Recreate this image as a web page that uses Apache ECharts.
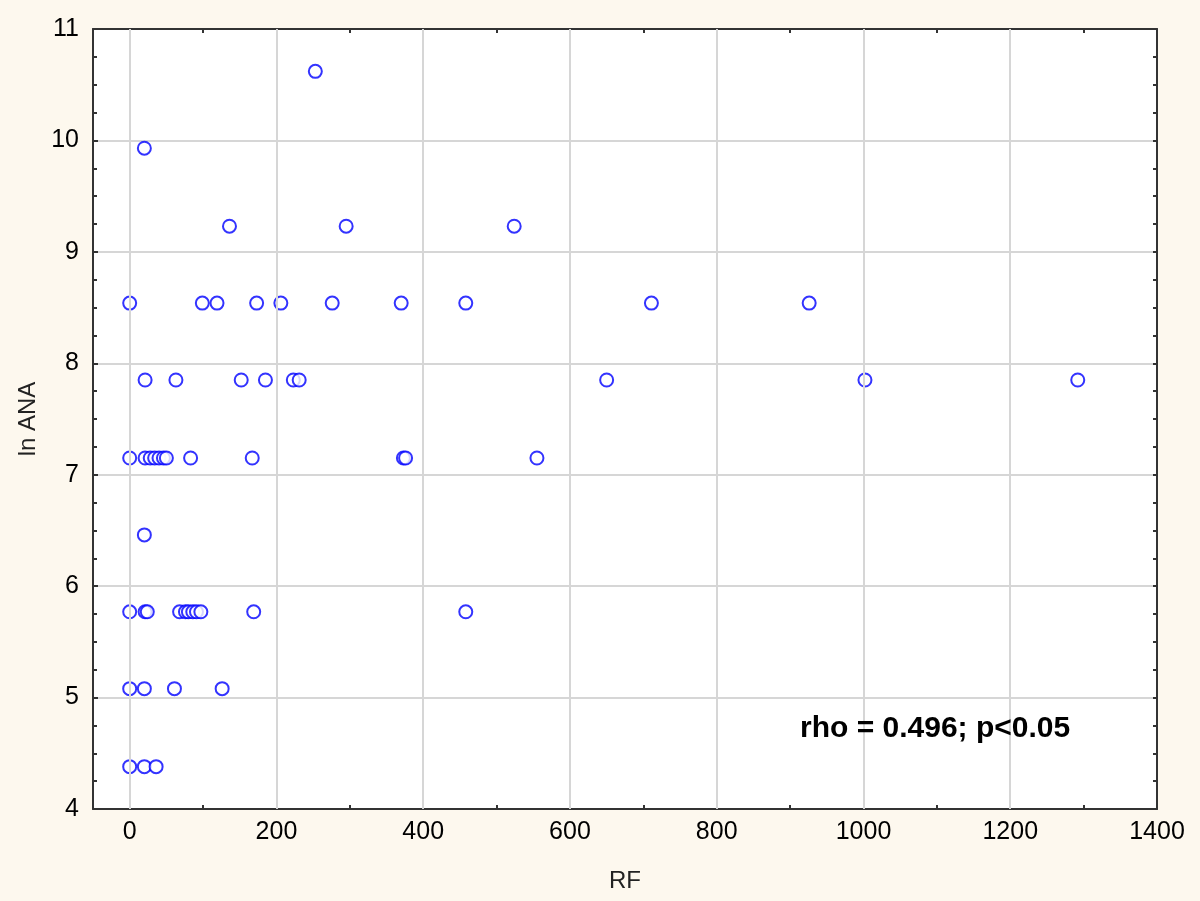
<!DOCTYPE html>
<html>
<head>
<meta charset="utf-8">
<script src="https://cdn.jsdelivr.net/npm/echarts@6/dist/echarts.min.js"></script>
<style>
html,body{margin:0;padding:0;background:#fdf8ee;}
#c{width:1200px;height:901px;}
</style>
</head>
<body>
<div id="c"></div>
<script>
// ---- data ----
const rf = [
  253,
  20,
  136, 295, 524,
  0, 99, 119, 173, 206, 276, 370, 458, 711, 926,
  21, 63, 152, 185, 223, 231, 650, 1002, 1292,
  0, 21, 28, 34, 40, 46, 50, 83, 167, 373, 376, 555,
  20,
  0, 21, 24, 68, 76, 80, 86, 91, 97, 169, 458,
  0, 20, 61, 126,
  0, 20, 36
];
const lnANA = [
  10.62,
  9.93,
  9.23, 9.23, 9.23,
  8.54, 8.54, 8.54, 8.54, 8.54, 8.54, 8.54, 8.54, 8.54, 8.54,
  7.85, 7.85, 7.85, 7.85, 7.85, 7.85, 7.85, 7.85, 7.85,
  7.15, 7.15, 7.15, 7.15, 7.15, 7.15, 7.15, 7.15, 7.15, 7.15, 7.15, 7.15,
  6.46,
  5.77, 5.77, 5.77, 5.77, 5.77, 5.77, 5.77, 5.77, 5.77, 5.77, 5.77,
  5.08, 5.08, 5.08, 5.08,
  4.38, 4.38, 4.38
];
const xLabelTicks = [0, 200, 400, 600, 800, 1000, 1200, 1400];
const xAllTicks = [0, 100, 200, 300, 400, 500, 600, 700, 800, 900, 1000, 1100, 1200, 1300, 1400];
const xGridVals = [0, 200, 400, 600, 800, 1000, 1200];
const xTitle = 'RF';
const yTitle = 'ln ANA';
const note = 'rho = 0.496; p<0.05';

const FONT = '"Liberation Sans", Arial, sans-serif';
const frame = {show: true, onZero: false, lineStyle: {color: '#333', width: 2}};
const plain = v => String(v);

const chart = echarts.init(document.getElementById('c'), null, {renderer: 'canvas'});
chart.setOption({
  backgroundColor: '#fdf8ee',
  animation: false,
  grid: {left: 93, right: 43, top: 29, bottom: 92, show: true, backgroundColor: '#ffffff', borderWidth: 0},
  xAxis: [{
    type: 'value', position: 'bottom', min: -50, max: 1400,
    axisLine: frame,
    axisTick: {show: true, inside: true, length: 4, customValues: xAllTicks, lineStyle: {color: '#333', width: 2}},
    axisLabel: {customValues: xLabelTicks, formatter: plain, color: '#000', fontFamily: FONT, fontSize: 25, margin: 11},
    splitLine: {show: false},
    name: xTitle, nameLocation: 'middle', nameGap: 60,
    nameTextStyle: {color: '#222', fontFamily: FONT, fontSize: 24}
  }, {
    type: 'value', position: 'top', min: -50, max: 1400,
    axisLine: frame,
    axisTick: {show: true, inside: true, length: 4, customValues: xAllTicks, lineStyle: {color: '#333', width: 2}},
    axisLabel: {show: false},
    splitLine: {show: false}
  }],
  yAxis: [{
    type: 'value', position: 'left', min: 4, max: 11, interval: 1,
    axisLine: frame,
    axisTick: {show: true, inside: true, length: 5, lineStyle: {color: '#333', width: 2}},
    minorTick: {show: true, splitNumber: 4, length: 4, lineStyle: {color: '#333', width: 2}},
    axisLabel: {formatter: plain, color: '#000', fontFamily: FONT, fontSize: 25, margin: 14},
    splitLine: {show: true, lineStyle: {color: '#d6d6d6', width: 2}},
    name: yTitle, nameLocation: 'middle', nameGap: 53, nameRotate: 90,
    nameTextStyle: {color: '#222', fontFamily: FONT, fontSize: 24}
  }, {
    type: 'value', position: 'right', min: 4, max: 11, interval: 1,
    axisLine: frame,
    axisTick: {show: true, inside: true, length: 4, lineStyle: {color: '#333', width: 2}},
    minorTick: {show: true, splitNumber: 4, length: 4, lineStyle: {color: '#333', width: 2}},
    axisLabel: {show: false},
    splitLine: {show: false}
  }],
  series: [{
    type: 'scatter', xAxisIndex: 0, yAxisIndex: 0, data: [], z: 1, silent: true,
    markLine: {
      silent: true, symbol: ['none', 'none'], label: {show: false},
      lineStyle: {color: '#d6d6d6', width: 2, type: 'solid'},
      data: xGridVals.map(v => ({xAxis: v}))
    }
  }, {
    type: 'scatter', xAxisIndex: 0, yAxisIndex: 0, z: 3,
    symbol: 'emptyCircle', symbolSize: 13,
    itemStyle: {color: '#0000ff', borderColor: '#0000ff', borderWidth: 2},
    data: rf.map((x, i) => [x, lnANA[i]])
  }],
  graphic: [{
    type: 'text', left: 800, top: 714, z: 10,
    style: {text: note, fill: '#000', font: 'bold 30px "Liberation Sans", Arial, sans-serif'}
  }]
});
</script>
</body>
</html>
